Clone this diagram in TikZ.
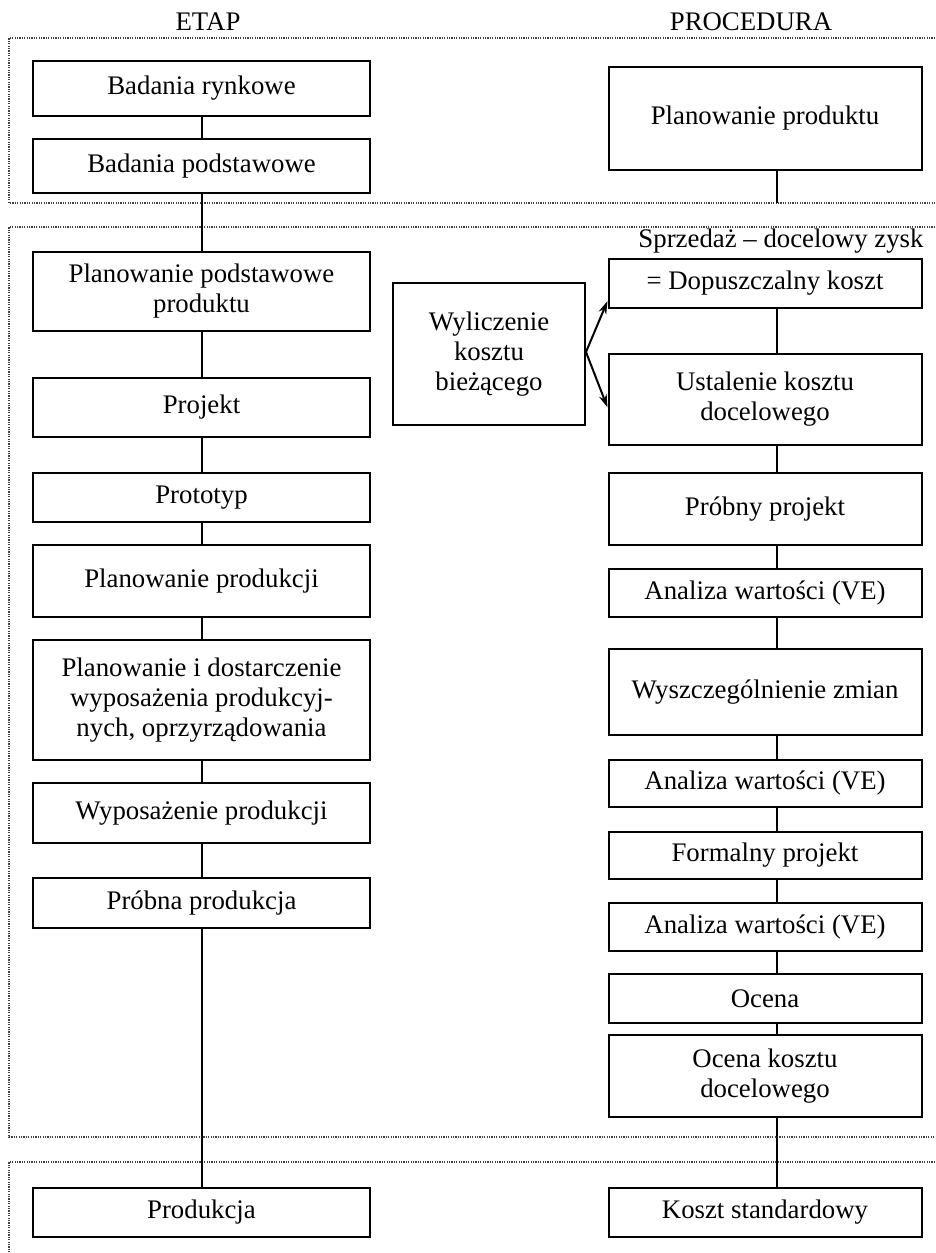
\documentclass[tikz,border=0pt]{standalone}
\usepackage{fontspec}
\setmainfont{Liberation Serif}
\usetikzlibrary{arrows.meta,calc}
\begin{document}
\begin{tikzpicture}[x=0.5pt,y=-0.5pt,
  font=\fontsize{13.4pt}{15pt}\selectfont,
  box/.style={draw, line width=1pt, inner sep=2pt, align=center},
  lbox/.style={box, minimum width=168.5pt, minimum height=#1*0.5pt},
  rbox/.style={box, minimum width=156.5pt, minimum height=#1*0.5pt},
  conn/.style={line width=1pt},
  frame/.style={line width=0.6pt, dash pattern=on 0.6pt off 0.6pt, black!75},
  arr/.style={conn, -{Stealth[length=6.5pt,width=4pt]}}]

\useasboundingbox (0,0) rectangle (936,1253);

% frames
\draw[frame] (935,38) -- (9,38) -- (9,203) -- (935,203);
\draw[frame] (935,227) -- (9,227) -- (9,1137) -- (935,1137);
\draw[frame] (935,1162) -- (9,1162) -- (9,1253);

% titles
\node (etap) at (208,22) {ETAP};
\node (proc) at (751,22) {PROCEDURA};

% left column
\node[lbox=55]  (br)    at (201.5,88.5) {Badania rynkowe};
\node[lbox=54]  (bp)    at (201.5,166)  {Badania podstawowe};
\node[lbox=79]  (ppp)   at (201.5,291.5) {Planowanie podstawowe\\produktu};
\node[lbox=59]  (proj)  at (201.5,407.5) {Projekt};
\node[lbox=49]  (prot)  at (201.5,497.5) {Prototyp};
\node[lbox=72]  (pprod) at (201.5,581)  {Planowanie produkcji};
\node[lbox=120] (pid)   at (201.5,700)  {Planowanie i dostarczenie\\wyposażenia produkcyj-\\nych, oprzyrządowania};
\node[lbox=60]  (wp)    at (201.5,813)  {Wyposażenie produkcji};
\node[lbox=50]  (pbp)   at (201.5,903)  {Próbna produkcja};
\node[lbox=49]  (prod)  at (201.5,1212) {Produkcja};

% right column
\node[rbox=103] (pp)   at (765,118.5) {Planowanie produktu};
\node (sprz) at (781,241) {Sprzedaż – docelowy zysk};
\node[rbox=49]  (dop)  at (765,283.5) {= Dopuszczalny koszt};
\node[rbox=91]  (ust)  at (765,399.5) {Ustalenie kosztu\\docelowego};
\node[rbox=72]  (pbj)  at (765,509)   {Próbny projekt};
\node[rbox=48]  (av1)  at (765,593)   {Analiza wartości (VE)};
\node[rbox=86]  (wz)   at (765,692)   {Wyszczególnienie zmian};
\node[rbox=47]  (av2)  at (765,783.5) {Analiza wartości (VE)};
\node[rbox=47]  (fp)   at (765,855.5) {Formalny projekt};
\node[rbox=48]  (av3)  at (765,927)   {Analiza wartości (VE)};
\node[rbox=49]  (oc)   at (765,998.5) {Ocena};
\node[rbox=82]  (okd)  at (765,1076)  {Ocena kosztu\\docelowego};
\node[rbox=49]  (ks)   at (765,1212)  {Koszt standardowy};

% middle
\node[box, minimum width=96pt, minimum height=71pt] (wyl) at (489,354) {Wyliczenie\\kosztu\\bieżącego};

% helper coordinates
\coordinate (rx) at (777,0);
\coordinate (f1b) at (0,203);

% left connectors
\draw[conn] (br.south) -- (bp.north);
\draw[conn] (bp.south) -- (ppp.north);
\draw[conn] (ppp.south) -- (proj.north);
\draw[conn] (proj.south) -- (prot.north);
\draw[conn] (prot.south) -- (pprod.north);
\draw[conn] (pprod.south) -- (pid.north);
\draw[conn] (pid.south) -- (wp.north);
\draw[conn] (wp.south) -- (pbp.north);
\draw[conn] (pbp.south) -- (prod.north);

% right connectors
\draw[conn] (pp.south -| rx) -- (f1b -| rx);
\draw[conn] (dop.south -| rx) -- (ust.north -| rx);
\draw[conn] (ust.south -| rx) -- (pbj.north -| rx);
\draw[conn] (pbj.south -| rx) -- (av1.north -| rx);
\draw[conn] (av1.south -| rx) -- (wz.north -| rx);
\draw[conn] (wz.south -| rx) -- (av2.north -| rx);
\draw[conn] (av2.south -| rx) -- (fp.north -| rx);
\draw[conn] (fp.south -| rx) -- (av3.north -| rx);
\draw[conn] (av3.south -| rx) -- (oc.north -| rx);
\draw[conn] (oc.south -| rx) -- (okd.north -| rx);
\draw[conn] (okd.south -| rx) -- (ks.north -| rx);

% arrows
\draw[arr] ($(wyl.east)+(0,-2)$) -- ($(dop.south west)+(0,-8)$);
\draw[arr] ($(wyl.east)+(0,-2)$) -- ($(ust.west)+(0,8)$);
\end{tikzpicture}
\end{document}
